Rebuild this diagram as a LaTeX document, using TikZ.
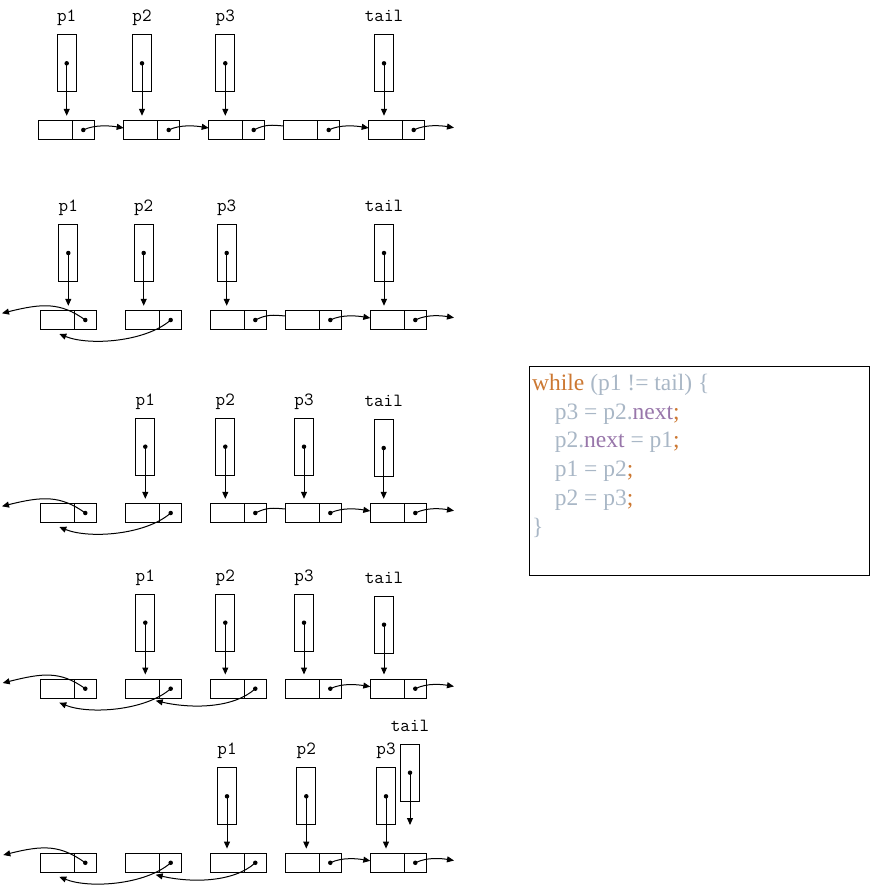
\documentclass[tikz,border=0pt]{standalone}
\usepackage{fontspec}
\usepackage{xcolor}
\usepackage{tikz}
\usetikzlibrary{positioning,arrows.meta}
\newfontfamily\codefont{Liberation Serif}
\definecolor{kwcolor}{HTML}{CC7832}
\definecolor{idcolor}{HTML}{A9B7C6}
\definecolor{fieldcolor}{HTML}{9876AA}
\tikzset{
  datacell/.style={draw, fill=white, minimum width=34pt, minimum height=19pt, inner sep=0pt, outer sep=0pt},
  nextcell/.style={datacell, minimum width=22pt},
  ptrbox/.style={draw, fill=white, minimum width=19pt, minimum height=57pt, inner sep=0pt},
  ptrname/.style={font=\ttfamily\fontsize{18.6}{20}\selectfont, inner sep=0pt},
  ptrdot/.style={circle, fill, inner sep=0pt, minimum size=4.5pt},
  ptrlink/.style={->, shorten >=4.7pt},
  codetext/.style={font=\codefont\fontsize{23.5}{28.7}\selectfont, text=idcolor, align=left, inner sep=0pt},
}
% one list element: data field + next field with its dot
\newcommand{\listelem}[3]{%
  \node[datacell] (#1d) at (#2,#3) {};
  \node[nextcell, right=0pt of #1d] (#1n) {};
  \node[ptrdot] (#1x) at (#1n.center) {};}
% pointer variable: box, name, dot, arrow down to its element
\newcommand{\ptrvar}[5]{%
  \node[ptrbox] (#1) at (#3,#4) {};
  \node[ptrname, anchor=base] (#1l) at ([yshift=12.5pt]#1.north) {#2};
  \node[ptrdot] (#1x) at (#1.center) {};
  \draw[ptrlink] (#1.center) -- (#1.center |- #5.north);}

\begin{document}
\begin{tikzpicture}[x=1pt, y=-1pt, line width=1pt, >={Triangle[length=7pt,width=6pt]}]
  \useasboundingbox (0,0) rectangle (870,885);

  % row 1
  \listelem{r1a}{55.3}{130}
  \listelem{r1b}{140.7}{130}
  \listelem{r1c}{225.7}{130}
  \listelem{r1d}{300.7}{130}
  \listelem{r1e}{385.7}{130}
  \ptrvar{r1p1}{p1}{66.7}{63.3}{r1ad}
  \ptrvar{r1p2}{p2}{142}{63.3}{r1bd}
  \ptrvar{r1p3}{p3}{225.3}{63.3}{r1cd}
  \ptrvar{r1tail}{tail}{384}{63.3}{r1ed}
  \coordinate (r1nil) at (454,127.7);
  \draw[->] (r1an.center) .. controls +(12,-6) and +(-12,-2) .. ([yshift=2pt]r1bd.west);
  \draw[->] (r1bn.center) .. controls +(12,-6) and +(-12,-2) .. ([yshift=2pt]r1cd.west);
  \draw (r1cn.center) .. controls +(12,-6) and +(-12,-1) .. ([yshift=4pt]r1dd.west);
  \draw[->] (r1dn.center) .. controls +(12,-6) and +(-12,-2) .. ([yshift=2pt]r1ed.west);
  \draw[->] (r1en.center) .. controls +(12,-6) and +(-12,-2) .. (r1nil);

  % row 2
  \listelem{r2a}{57.3}{320}
  \listelem{r2b}{142.7}{320}
  \listelem{r2c}{227.3}{320}
  \listelem{r2d}{302.3}{320}
  \listelem{r2e}{387.3}{320}
  \ptrvar{r2p1}{p1}{68.3}{253}{r2ad}
  \ptrvar{r2p2}{p2}{143.7}{253}{r2bd}
  \ptrvar{r2p3}{p3}{226.7}{253}{r2cd}
  \ptrvar{r2tail}{tail}{384}{253}{r2ed}
  \coordinate (r2old) at (2,313.3);
  \coordinate (r2nil) at (454,317.7);
  \draw[->] (r2an.center) .. controls +(-25,-18) and +(40,-10) .. (r2old);
  \draw[->] (r2bn.center) .. controls +(-25,22) and +(30,12) .. ([xshift=2pt,yshift=-4.5pt]r2ad.south);
  \draw (r2cn.center) .. controls +(12,-6) and +(-12,-1) .. ([yshift=4pt]r2dd.west);
  \draw[->] (r2dn.center) .. controls +(12,-6) and +(-12,-2) .. ([yshift=2pt]r2ed.west);
  \draw[->] (r2en.center) .. controls +(12,-6) and +(-12,-2) .. (r2nil);

  % row 3
  \listelem{r3a}{57.3}{513}
  \listelem{r3b}{142.7}{513}
  \listelem{r3c}{227.3}{513}
  \listelem{r3d}{302.3}{513}
  \listelem{r3e}{387.3}{513}
  \ptrvar{r3p1}{p1}{145.3}{446.7}{r3bd}
  \ptrvar{r3p2}{p2}{225.3}{446.7}{r3cd}
  \ptrvar{r3p3}{p3}{304}{446.7}{r3dd}
  \ptrvar{r3tail}{tail}{383.7}{448}{r3ed}
  \coordinate (r3old) at (2,506.3);
  \coordinate (r3nil) at (454,510.7);
  \draw[->] (r3an.center) .. controls +(-25,-18) and +(40,-10) .. (r3old);
  \draw[->] (r3bn.center) .. controls +(-25,22) and +(30,12) .. ([xshift=2pt,yshift=-4.5pt]r3ad.south);
  \draw (r3cn.center) .. controls +(12,-6) and +(-12,-1) .. ([yshift=4pt]r3dd.west);
  \draw[->] (r3dn.center) .. controls +(12,-6) and +(-12,-2) .. ([yshift=2pt]r3ed.west);
  \draw[->] (r3en.center) .. controls +(12,-6) and +(-12,-2) .. (r3nil);

  % row 4
  \listelem{r4a}{57.3}{688.7}
  \listelem{r4b}{142.7}{688.7}
  \listelem{r4c}{227.3}{688.7}
  \listelem{r4d}{302.3}{688.7}
  \listelem{r4e}{387.3}{688.7}
  \ptrvar{r4p1}{p1}{145.3}{622.7}{r4bd}
  \ptrvar{r4p2}{p2}{225.3}{622.7}{r4cd}
  \ptrvar{r4p3}{p3}{304}{622.7}{r4dd}
  \ptrvar{r4tail}{tail}{384}{624.7}{r4ed}
  \coordinate (r4old) at (2.7,683);
  \coordinate (r4nil) at (454,686.4);
  \draw[->] (r4an.center) .. controls +(-25,-18) and +(40,-10) .. (r4old);
  \draw[->] (r4bn.center) .. controls +(-25,22) and +(30,12) .. ([xshift=2pt,yshift=-4.5pt]r4ad.south);
  \draw[->] (r4cn.center) .. controls +(-22,20) and +(35,8) .. ([xshift=-4pt,yshift=-2.5pt]r4bn.south west);
  \draw[->] (r4dn.center) .. controls +(12,-6) and +(-12,-2) .. ([yshift=2pt]r4ed.west);
  \draw[->] (r4en.center) .. controls +(12,-6) and +(-12,-2) .. (r4nil);

  % row 5
  \listelem{r5a}{57.3}{862.8}
  \listelem{r5b}{142.7}{862.8}
  \listelem{r5c}{227.3}{862.8}
  \listelem{r5d}{302.3}{862.8}
  \listelem{r5e}{387.3}{862.8}
  \ptrvar{r5p1}{p1}{227}{796.3}{r5cd}
  \ptrvar{r5p2}{p2}{306.3}{796.3}{r5dd}
  \ptrvar{r5p3}{p3}{386}{796.3}{r5ed}
  \node[ptrbox] (r5tail) at (410,772.7) {};
  \node[ptrname, anchor=base] (r5taill) at ([yshift=12.5pt]r5tail.north) {tail};
  \node[ptrdot] (r5tailx) at (r5tail.center) {};
  \coordinate (r5tailend) at (410,825);
  \draw[->] (r5tail.center) -- (r5tailend);
  \coordinate (r5old) at (3.3,855);
  \coordinate (r5nil) at (454,860.5);
  \draw[->] (r5an.center) .. controls +(-25,-18) and +(40,-10) .. (r5old);
  \draw[->] (r5bn.center) .. controls +(-25,22) and +(30,12) .. ([xshift=2pt,yshift=-4.5pt]r5ad.south);
  \draw[->] (r5cn.center) .. controls +(-22,20) and +(35,8) .. ([xshift=-4pt,yshift=-2.5pt]r5bn.south west);
  \draw[->] (r5dn.center) .. controls +(12,-6) and +(-12,-2) .. ([yshift=2pt]r5ed.west);
  \draw[->] (r5en.center) .. controls +(12,-6) and +(-12,-2) .. (r5nil);

  % the loop
  \node[draw, minimum width=340pt, minimum height=209.3pt, inner sep=0pt, anchor=north west] (codebox) at (529.3,365.7) {};
  \node[codetext, anchor=north west] (code) at (531.7,373.7) {%
    {\color{kwcolor}while} (p1 != tail) \{\\%
    \hspace*{22.6pt}p3 = p2.{\color{fieldcolor}next}{\color{kwcolor};}\\%
    \hspace*{22.6pt}p2.{\color{fieldcolor}next} = p1{\color{kwcolor};}\\%
    \hspace*{22.6pt}p1 = p2{\color{kwcolor};}\\%
    \hspace*{22.6pt}p2 = p3{\color{kwcolor};}\\%
    \}};
\end{tikzpicture}
\end{document}
